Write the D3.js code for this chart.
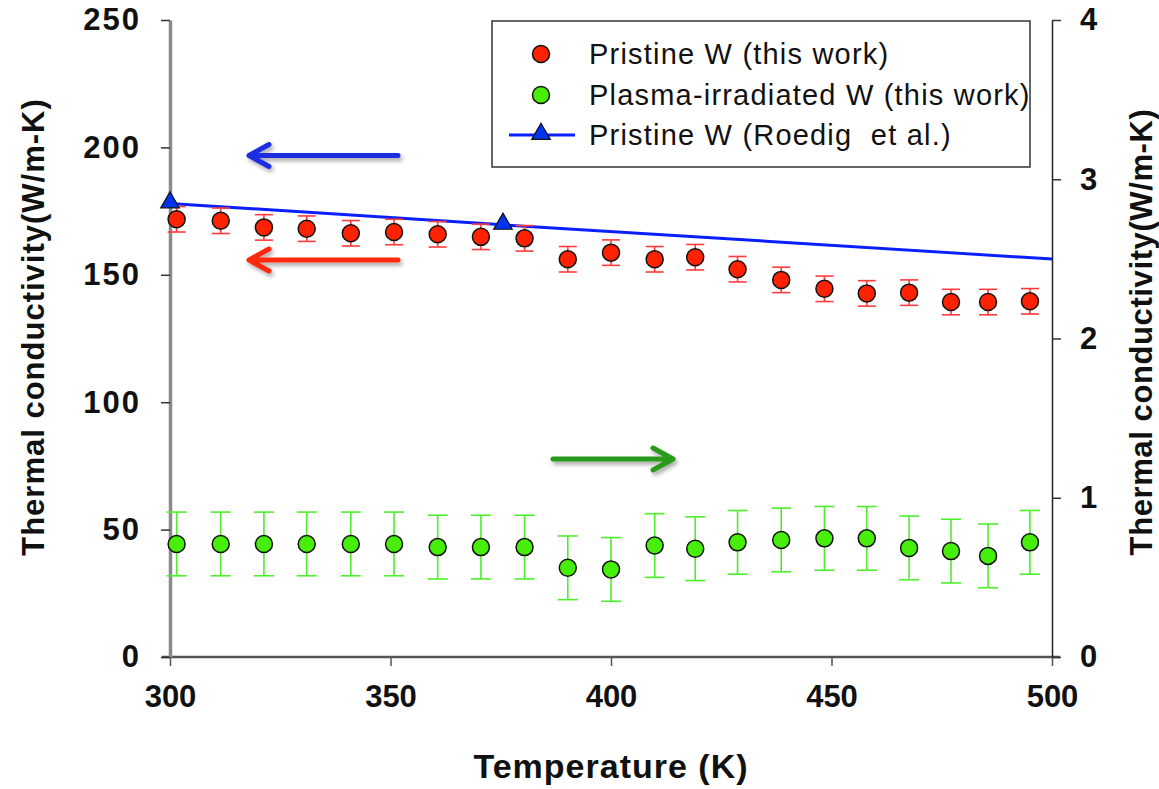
<!DOCTYPE html>
<html lang="en">
<head>
    <meta charset="UTF-8">
    <title>Thermal conductivity of W</title>
    <script src="https://cdnjs.cloudflare.com/ajax/libs/d3/7.8.5/d3.min.js"></script>
    <style>
        body {
            margin: 0;
            background-color: white;
        }

        svg text {
            font-family: "Liberation Sans", Arial, sans-serif;
            white-space: pre;
        }
    </style>
</head>
<body>
<div id="chart"></div>
<script type="text/javascript">
    // temperatures (K) shared by both measured series
    const temps = [301.5, 311.5, 321.3, 331, 341, 350.8, 360.7, 370.5, 380.4, 390.2, 400,
        409.9, 419.1, 428.7, 438.6, 448.4, 458, 467.6, 477.1, 485.5, 495];
    // pristine W, left axis (W/m-K)
    const pristine = [171.8, 171.2, 168.6, 168.1, 166.3, 166.8, 165.9, 164.9, 164.3, 156.1, 158.7,
        156.1, 156.9, 152.2, 148.0, 144.5, 142.7, 143.0, 139.3, 139.3, 139.6];
    const pristineErr = [5, 5, 5, 5, 5, 5, 5, 5, 5, 5, 5, 5, 5, 5, 5, 5, 5, 5, 5, 5, 5];
    // plasma-irradiated W, right axis (W/m-K)
    const irradiated = [0.71, 0.71, 0.71, 0.71, 0.71, 0.71, 0.69, 0.69, 0.69, 0.56, 0.55,
        0.70, 0.68, 0.72, 0.735, 0.745, 0.745, 0.685, 0.665, 0.635, 0.72];
    const irradiatedErr = [0.2, 0.2, 0.2, 0.2, 0.2, 0.2, 0.2, 0.2, 0.2, 0.2, 0.2,
        0.2, 0.2, 0.2, 0.2, 0.2, 0.2, 0.2, 0.2, 0.2, 0.2];
    // Roedig et al. reference line
    const roedigT = [300, 375.5, 500];
    const roedigK = [178, 169.6, 156.2];
    const roedigMarked = [true, true, false];

    const xTicks = [300, 350, 400, 450, 500];
    const yLeftTicks = [0, 50, 100, 150, 200, 250];
    const yRightTicks = [0, 1, 2, 3, 4];
    const legendLabels = ['Pristine W (this work)', 'Plasma-irradiated W (this work)', 'Pristine W (Roedig  et al.)'];

    function onLoad() {
        const width = 1159;
        const height = 789;
        const left = 170, right = 1052, top = 20, bottom = 657;

        const RED = '#ff2200';
        const GREEN = '#47ee0a';
        const BLUE = '#0a1fff';

        const svg = d3.select('#chart')
            .append('svg')
            .attr('width', width)
            .attr('height', height);

        const defs = svg.append('defs');
        const shadow = defs.append('filter').attr('id', 'shadow')
            .attr('x', '-20%').attr('y', '-50%').attr('width', '140%').attr('height', '200%');
        shadow.append('feDropShadow')
            .attr('dx', 2).attr('dy', 3).attr('stdDeviation', 2)
            .attr('flood-color', '#000').attr('flood-opacity', 0.35);

        const x = d3.scaleLinear().domain([300, 500]).range([left, right]);
        const yL = d3.scaleLinear().domain([0, 250]).range([bottom, top]);
        const yR = d3.scaleLinear().domain([0, 4]).range([bottom, top]);

        // axes
        const xAxis = svg.append('g')
            .attr('transform', `translate(0, ${bottom})`)
            .call(d3.axisBottom(x).tickValues(xTicks).tickSize(9).tickSizeOuter(0).tickPadding(12));
        xAxis.select('.domain').attr('stroke', '#555').attr('stroke-width', 2.5)
            .attr('d', `M${left - 8},0H${right + 8}`);
        xAxis.selectAll('.tick line').attr('stroke', '#555').attr('stroke-width', 1.5);
        xAxis.selectAll('.tick text')
            .attr('font-size', 31).attr('font-weight', 'bold').attr('fill', '#111')
            .attr('dy', '0.95em');

        const leftAxis = svg.append('g')
            .attr('transform', `translate(${left}, 0)`)
            .call(d3.axisLeft(yL).tickValues(yLeftTicks).tickSize(9).tickSizeOuter(0).tickPadding(20));
        leftAxis.select('.domain').attr('stroke', '#8a8a8a').attr('stroke-width', 3.5);
        leftAxis.selectAll('.tick line').attr('stroke', '#333').attr('stroke-width', 1.5);
        leftAxis.selectAll('.tick text')
            .attr('font-size', 31).attr('font-weight', 'bold').attr('fill', '#111')
            .attr('letter-spacing', 2);

        const rightAxis = svg.append('g')
            .attr('transform', `translate(${right}, 0)`)
            .call(d3.axisRight(yR).tickValues(yRightTicks).tickFormat(d3.format('d'))
                .tickSize(9).tickSizeOuter(0).tickPadding(19));
        rightAxis.select('.domain').attr('stroke', '#222').attr('stroke-width', 1.5);
        rightAxis.selectAll('.tick line').attr('stroke', '#333').attr('stroke-width', 1.5);
        rightAxis.selectAll('.tick text')
            .attr('font-size', 31).attr('font-weight', 'bold').attr('fill', '#111');

        // axis titles
        svg.append('text')
            .attr('x', (left + right) / 2)
            .attr('y', 778)
            .attr('text-anchor', 'middle')
            .attr('font-size', 34).attr('font-weight', 'bold').attr('letter-spacing', 1)
            .attr('fill', '#111')
            .text('Temperature (K)');

        svg.append('text')
            .attr('transform', 'translate(44, 327) rotate(-90)')
            .attr('text-anchor', 'middle')
            .attr('font-size', 31).attr('font-weight', 'bold').attr('letter-spacing', 1)
            .attr('fill', '#111')
            .text('Thermal conductivity(W/m-K)');

        svg.append('text')
            .attr('transform', 'translate(1152, 332) rotate(-90)')
            .attr('text-anchor', 'middle')
            .attr('font-size', 31).attr('font-weight', 'bold').attr('letter-spacing', 0.6)
            .attr('fill', '#111')
            .text('Thermal conductivity(W/m-K)');

        // legend
        const legend = svg.append('g');
        legend.append('rect')
            .attr('x', 492).attr('y', 21).attr('width', 538).attr('height', 146)
            .attr('fill', 'white').attr('stroke', '#333').attr('stroke-width', 1.5);
        const rows = [54, 95, 135];
        legend.selectAll('text.lbl')
            .data(legendLabels)
            .enter()
            .append('text')
            .attr('class', 'lbl')
            .attr('x', 589)
            .attr('y', (_, i) => rows[i])
            .attr('dy', '0.35em')
            .attr('font-size', 29).attr('letter-spacing', 1.2)
            .attr('fill', '#111')
            .text(d => d);
        legend.append('circle').attr('cx', 541).attr('cy', rows[0]).attr('r', 8.5)
            .attr('fill', RED).attr('stroke', '#111').attr('stroke-width', 1.5);
        legend.append('circle').attr('cx', 541).attr('cy', rows[1]).attr('r', 8.5)
            .attr('fill', GREEN).attr('stroke', '#111').attr('stroke-width', 1.5);
        legend.append('line').attr('x1', 509).attr('x2', 575)
            .attr('y1', rows[2]).attr('y2', rows[2])
            .attr('stroke', BLUE).attr('stroke-width', 3);
        legend.append('path')
            .attr('d', d3.symbol().type(d3.symbolTriangle).size(150)())
            .attr('transform', `translate(541, ${rows[2] - 1})`)
            .attr('fill', '#0033ee').attr('stroke', '#111').attr('stroke-width', 1.2);

        // arrows
        const arrows = [
            {x1: 398, x2: 249, y: 155.5, color: '#1a2fe0'},
            {x1: 398, x2: 249, y: 260, color: '#ff2a0a'},
            {x1: 553, x2: 673, y: 459, color: '#2a9a1a'}
        ];
        svg.append('g').selectAll('path')
            .data(arrows)
            .enter()
            .append('path')
            .attr('d', d => {
                const dir = d.x2 > d.x1 ? -1 : 1;
                return `M${d.x1},${d.y}H${d.x2}M${d.x2 + dir * 20},${d.y - 11}L${d.x2},${d.y}L${d.x2 + dir * 20},${d.y + 11}`;
            })
            .attr('fill', 'none')
            .attr('stroke', d => d.color)
            .attr('stroke-width', 5)
            .attr('stroke-linecap', 'round')
            .attr('stroke-linejoin', 'round')
            .attr('filter', 'url(#shadow)');

        // Roedig line
        const line = d3.line().x((d, i) => x(roedigT[i])).y(d => yL(d));
        svg.append('path')
            .datum(roedigK)
            .attr('d', line)
            .attr('fill', 'none')
            .attr('stroke', BLUE)
            .attr('stroke-width', 3);

        // error bars
        function errorBars(values, errs, scale, color, cap) {
            const g = svg.append('g').attr('stroke', color).attr('stroke-width', 1.6);
            values.forEach((v, i) => {
                const cx = x(temps[i]);
                const y1 = scale(v + errs[i]);
                const y2 = scale(v - errs[i]);
                g.append('line').attr('x1', cx).attr('x2', cx).attr('y1', y1).attr('y2', y2);
                g.append('line').attr('x1', cx - cap).attr('x2', cx + cap).attr('y1', y1).attr('y2', y1);
                g.append('line').attr('x1', cx - cap).attr('x2', cx + cap).attr('y1', y2).attr('y2', y2);
            });
        }

        errorBars(pristine, pristineErr, yL, '#ff3b3b', 9);
        errorBars(irradiated, irradiatedErr, yR, '#4def2a', 10);

        svg.append('g').selectAll('circle')
            .data(pristine)
            .enter()
            .append('circle')
            .attr('cx', (_, i) => x(temps[i]))
            .attr('cy', d => yL(d))
            .attr('r', 8.5)
            .attr('fill', RED)
            .attr('stroke', '#111')
            .attr('stroke-width', 1.5);

        svg.append('g').selectAll('circle')
            .data(irradiated)
            .enter()
            .append('circle')
            .attr('cx', (_, i) => x(temps[i]))
            .attr('cy', d => yR(d))
            .attr('r', 8.5)
            .attr('fill', GREEN)
            .attr('stroke', '#111')
            .attr('stroke-width', 1.5);

        // Roedig markers
        svg.append('g').selectAll('path')
            .data(roedigK.filter((_, i) => roedigMarked[i]))
            .enter()
            .append('path')
            .attr('d', d3.symbol().type(d3.symbolTriangle).size(150)())
            .attr('transform', (d, i) => `translate(${x(roedigT[i])}, ${yL(d) - 1})`)
            .attr('fill', '#0033ee')
            .attr('stroke', '#111')
            .attr('stroke-width', 1.2);
    }

    document.addEventListener('DOMContentLoaded', onLoad);
</script>
</body>
</html>
